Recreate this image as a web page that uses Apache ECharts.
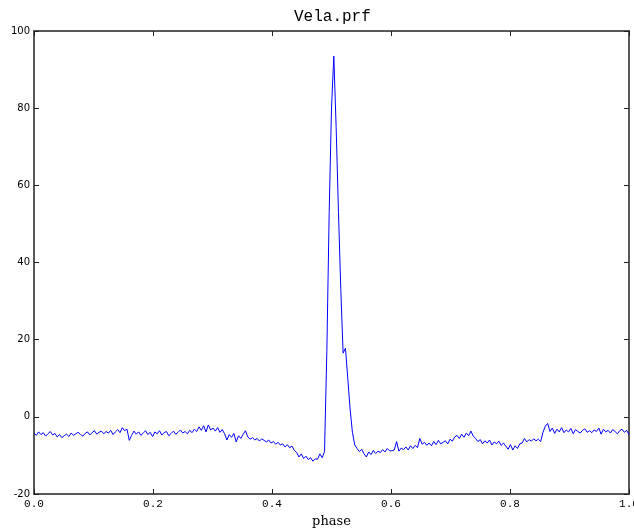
<!DOCTYPE html>
<html>
<head>
<meta charset="utf-8">
<script src="https://cdn.jsdelivr.net/npm/echarts@6/dist/echarts.min.js"></script>
<style>html,body{margin:0;padding:0;background:#fff}#c{width:634px;height:530px}</style>
</head>
<body>
<div id="c"></div>
<script>
var TITLE = 'Vela.prf';
var X_LABEL = 'phase';
var N_BINS = 256;
var xTicks = [0, 0.2, 0.4, 0.6, 0.8, 1.0];
var yTicks = [-20, 0, 20, 40, 60, 80, 100];
// flux per phase bin (bin i at phase i/N_BINS)
var flux = [
  -4.2, -4.8, -3.9, -4.6, -4.1, -5.0, -4.4, -3.8, -4.7, -4.3,
  -5.2, -4.6, -5.4, -4.9, -4.5, -5.1, -4.2, -4.8, -4.4, -4.0,
  -4.6, -5.0, -4.3, -3.9, -4.7, -4.1, -3.6, -4.5, -4.0, -3.7,
  -4.4, -3.8, -4.2, -3.5, -4.6, -3.9, -3.3, -4.1, -2.8, -3.6,
  -3.2, -6.1, -4.8, -3.7, -4.5, -3.9, -4.8, -4.2, -3.6, -4.6,
  -4.0, -5.1, -3.9, -4.4, -3.6, -4.7, -4.1, -3.8, -4.9, -4.3,
  -3.7, -4.5, -4.0, -3.4, -4.2, -3.8, -4.4, -3.5, -4.1, -3.2,
  -3.8, -2.6, -3.5, -2.3, -3.9, -2.1, -3.4, -2.9, -3.7, -2.8,
  -4.0, -3.3, -4.4, -6.0, -4.6, -5.3, -4.3, -6.5, -4.9, -5.6,
  -4.5, -3.6, -5.2, -5.8, -5.4, -6.0, -5.6, -6.3, -5.7, -6.1,
  -6.5, -6.0, -6.8, -6.4, -7.1, -6.6, -7.3, -7.0, -7.8, -7.2,
  -8.0, -7.6, -8.7, -9.2, -10.4, -9.6, -10.8, -10.2, -11.1, -10.6,
  -11.5, -10.9, -11.0, -9.6, -10.6,
  -9.0, 17.0, 53.0, 80.0, 93.5, 75.0, 53.0, 33.0, 16.5, 17.8,
  10.0, 2.0, -4.0, -7.3, -8.2,
  -9.0, -8.4, -9.6, -10.4, -9.1, -9.8, -8.7, -9.5, -8.9, -9.3,
  -8.5, -9.1, -8.2, -8.8, -8.8, -8.6, -6.4, -8.9, -8.1, -8.5,
  -7.8, -8.6, -7.5, -8.2, -7.4, -8.0, -5.6, -7.1, -6.6, -7.4,
  -6.8, -7.5, -6.4, -7.2, -6.1, -7.0, -6.6, -6.2, -7.0, -5.8,
  -6.3, -5.2, -4.8, -5.6, -4.5, -5.3, -4.2, -4.9, -3.7, -5.0,
  -5.6, -6.4, -5.9, -7.0, -6.2, -6.8, -6.0, -7.3, -6.5, -7.0,
  -6.3, -7.4, -6.8, -7.6, -8.4, -7.2, -8.6, -7.5, -8.2, -7.0,
  -6.8, -5.6, -6.5, -5.9, -6.3, -5.7, -6.2, -5.8, -6.4, -4.0,
  -2.4, -1.7, -3.8, -2.9, -4.3, -3.2, -3.9, -2.8, -4.1, -3.4,
  -3.9, -3.0, -4.4, -3.3, -3.8, -4.2, -3.5, -3.1, -4.0, -3.6,
  -4.1, -3.4, -3.8, -2.9, -4.5, -3.2, -3.9, -3.5, -4.2, -3.3,
  -3.8, -4.4, -3.6, -3.2, -4.0, -3.5, -4.6
];

var points = flux.map(function (v, i) { return [i / N_BINS, v]; });

var chart = echarts.init(document.getElementById('c'), null, {renderer: 'canvas'});
var axisLine = {show: true, onZero: false, lineStyle: {color: '#222', width: 1.5}};
var tick = {show: true, inside: true, length: 5, lineStyle: {color: '#222', width: 1}};
var monoLabel = {fontFamily: 'Liberation Mono', fontSize: 11, color: '#000'};
chart.setOption({
  animation: false,
  title: {
    text: TITLE, left: 289, top: 4,
    textStyle: {fontFamily: 'Liberation Mono', fontSize: 16, fontWeight: 'normal', color: '#000'}
  },
  grid: {left: 34, right: 5, top: 31, bottom: 36, containLabel: false, outerBoundsMode: 'none'},
  xAxis: [{
    type: 'value', min: 0, max: 1, interval: 0.2,
    name: X_LABEL, nameLocation: 'middle', nameGap: 21,
    nameTextStyle: {fontFamily: 'DejaVu Serif', fontSize: 13, color: '#000'},
    axisLine: axisLine, axisTick: tick, splitLine: {show: false},
    axisLabel: Object.assign({margin: 5, formatter: function (v) { return v.toFixed(1); }}, monoLabel)
  }, {
    type: 'value', min: 0, max: 1, interval: 0.2, position: 'top',
    axisLine: axisLine, axisTick: tick, splitLine: {show: false}, axisLabel: {show: false}
  }],
  yAxis: [{
    type: 'value', min: -20, max: 100, interval: 20,
    axisLine: axisLine, axisTick: tick, splitLine: {show: false},
    axisLabel: {margin: 4, fontFamily: 'DejaVu Sans', fontSize: 10, color: '#000'}
  }, {
    type: 'value', min: -20, max: 100, interval: 20, position: 'right',
    axisLine: axisLine, axisTick: tick, splitLine: {show: false}, axisLabel: {show: false}
  }],
  series: [{
    type: 'line', data: points, showSymbol: false, symbol: 'none',
    lineStyle: {color: '#0000ff', width: 1}, clip: true
  }]
});
</script>
</body>
</html>
